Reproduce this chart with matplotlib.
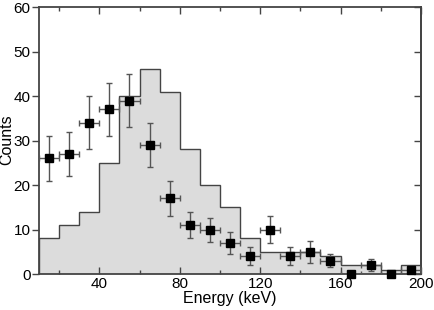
import matplotlib
matplotlib.use("Agg")
import matplotlib.pyplot as plt
import numpy as np
from matplotlib.ticker import MultipleLocator

plt.rcParams['font.family'] = ['Liberation Sans', 'DejaVu Sans']

# Histogram (bin edges and counts)
bin_edges = [10, 20, 30, 40, 50, 60, 70, 80, 90, 100, 110, 120, 130, 140, 150, 160, 170, 180, 190, 200]
hist_counts = [8, 11, 14, 25, 40, 46, 41, 28, 20, 15, 8, 5, 5, 5, 4, 2, 2, 1, 2]

# Data points
energy = [15, 25, 35, 45, 55, 65, 75, 85, 95, 105, 115, 125, 135, 145, 155, 165, 175, 185, 195]
counts = [26, 27, 34, 37, 39, 29, 17, 11, 10, 7, 4, 10, 4, 5, 3, 0, 2, 0, 1]
count_err = [5, 5, 6, 6, 6, 5, 4, 3, 2.7, 2.5, 2, 3, 2, 2.5, 1.5, 0, 1.3, 0, 0.8]
energy_err = [5] * len(energy)

fig = plt.figure(figsize=(4.35, 3.10), dpi=100)
ax = fig.add_axes([0.0897, 0.116, 0.878, 0.861])

ax.stairs(hist_counts, bin_edges, fill=True, facecolor='#dcdcdc', edgecolor='none', zorder=1)
ax.stairs(hist_counts, bin_edges, fill=False, edgecolor='#444444', linewidth=1.0, zorder=2)

ax.errorbar(energy, counts, xerr=energy_err, yerr=count_err, fmt='none',
            ecolor='#555555', elinewidth=1.0, capsize=2.5, capthick=1.0, zorder=3)
ax.plot(energy, counts, linestyle='none', marker='s', markersize=5.5,
        color='black', zorder=4, clip_on=False)

ax.set_xlim(10, 200)
ax.set_ylim(0, 60)
ax.set_xticks([40, 80, 120, 160, 200])
ax.xaxis.set_minor_locator(MultipleLocator(20))
ax.yaxis.set_major_locator(MultipleLocator(10))

ax.tick_params(axis='x', which='both', direction='in', top=True, bottom=True,
               color='#444444', labelsize=11, pad=2)
ax.tick_params(axis='x', which='major', length=5, width=1)
ax.tick_params(axis='x', which='minor', length=3, width=1)
ax.tick_params(axis='y', which='major', direction='out', left=True, right=False,
               length=5, width=1, color='#444444', labelsize=11, pad=1)

# right-side inward ticks
sec = ax.secondary_yaxis('right')
sec.yaxis.set_major_locator(MultipleLocator(10))
sec.tick_params(axis='y', direction='in', length=5, width=1, color='#444444', labelright=False)
sec.spines['right'].set_color('#444444')
sec.spines['right'].set_linewidth(1.3)

for s in ax.spines.values():
    s.set_color('#444444')
    s.set_linewidth(1.3)

ax.set_xlabel('Energy (keV)', fontsize=11.5, labelpad=0)
fig.text(7 / 435, 1 - 140 / 310, 'Counts', rotation=90, ha='center', va='center',
         fontsize=11.5)

fig.savefig('out.png', dpi=100)
